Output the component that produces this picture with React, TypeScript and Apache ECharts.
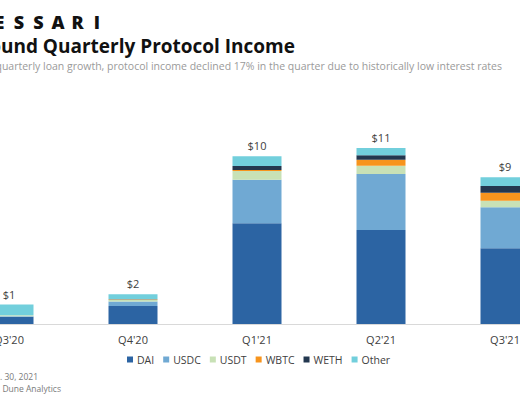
import React, { useEffect, useRef } from "react";
import * as echarts from "echarts";

const categories = ["Q3'20", "Q4'20", "Q1'21", "Q2'21", "Q3'21"];
const dai = [0.44, 1.09, 6.11, 5.7, 4.59];
const usdc = [0.03, 0.28, 2.63, 3.39, 2.48];
const usdt = [0.06, 0.12, 0.54, 0.5, 0.4];
const wbtc = [0, 0.01, 0.05, 0.36, 0.48];
const weth = [0, 0.01, 0.24, 0.28, 0.41];
const other = [0.65, 0.3, 0.59, 0.44, 0.53];

const seriesNames = ["DAI", "USDC", "USDT", "WBTC", "WETH", "Other"];
const seriesData = [dai, usdc, usdt, wbtc, weth, other];
const colors = ["#2c64a3", "#70a9d3", "#c8e1b6", "#f7941d", "#23374f", "#72cfdc"];

const logoLetters = ["M", "E", "S", "S", "A", "R", "I"];
const titleText = "Compound Quarterly Protocol Income";
const subtitleText =
  "quarterly loan growth, protocol income declined 17% in the quarter due to historically low interest rates";
const noteLines = ["As of Sep. 30, 2021", "Source: Messari, Dune Analytics"];

const FONT = "'Open Sans', 'Noto Sans', sans-serif";
const OFFSET = 60;

export default function App() {
  const ref = useRef<HTMLDivElement>(null);

  useEffect(() => {
    if (!ref.current) return;
    const chart = echarts.init(ref.current, undefined, { renderer: "svg" });
    const totals = categories.map((_, i) =>
      seriesData.reduce((s, arr) => s + arr[i], 0)
    );

    const graphics: any[] = [];
    logoLetters.forEach((ch, i) => {
      graphics.push({
        type: "text",
        x: OFFSET - 20 + i * 19.5,
        y: 22,
        style: {
          text: ch,
          fontFamily: FONT,
          fontSize: 18,
          fontWeight: 800,
          fill: "#111111",
          textAlign: "center",
          textVerticalAlign: "middle",
        },
      });
    });
    graphics.push({
      type: "text",
      x: OFFSET + 295,
      y: 46,
      style: {
        text: titleText,
        fontFamily: FONT,
        fontSize: 19,
        fontWeight: "bold",
        fill: "#111111",
        textAlign: "right",
        textVerticalAlign: "middle",
      },
    });
    graphics.push({
      type: "text",
      x: OFFSET + 502,
      y: 66,
      style: {
        text: subtitleText,
        fontFamily: FONT,
        fontSize: 10.5,
        fill: "#9a9a9a",
        textAlign: "right",
        textVerticalAlign: "middle",
      },
    });
    const noteRight = [38, 61];
    const noteY = [376, 388.5];
    noteLines.forEach((t, i) => {
      graphics.push({
        type: "text",
        x: OFFSET + noteRight[i],
        y: noteY[i],
        style: {
          text: t,
          fontFamily: FONT,
          fontSize: 8.5,
          fill: "#7a7a7a",
          textAlign: "right",
          textVerticalAlign: "middle",
        },
      });
    });

    chart.setOption({
      animation: false,
      color: colors,
      textStyle: { fontFamily: FONT },
      grid: { left: 7, right: 13, top: 126, bottom: 76, containLabel: false },
      legend: {
        data: seriesNames,
        left: 187,
        top: 354,
        padding: 0,
        icon: "rect",
        itemWidth: 6,
        itemHeight: 6,
        itemGap: 9,
        textStyle: { fontFamily: FONT, fontSize: 10.5, color: "#404040", padding: [0, 0, 0, -1] },
      },
      xAxis: {
        type: "category",
        data: categories,
        axisLine: { lineStyle: { color: "#d9d9d9", width: 1 } },
        axisTick: { show: false },
        axisLabel: { fontFamily: FONT, fontSize: 11, color: "#404040", margin: 10 },
      },
      yAxis: {
        type: "value",
        min: 0,
        max: 12,
        show: false,
        splitLine: { show: false },
      },
      series: seriesNames.map((name, si) => ({
        name,
        type: "bar",
        stack: "total",
        barWidth: 49,
        data: seriesData[si],
        itemStyle: { color: colors[si] },
        label:
          si === seriesNames.length - 1
            ? {
                show: true,
                position: "top",
                distance: 5,
                fontFamily: FONT,
                fontSize: 11,
                color: "#404040",
                formatter: (p: any) => "$" + Math.round(totals[p.dataIndex]),
              }
            : { show: false },
      })),
      graphic: graphics,
    });

    return () => chart.dispose();
  }, []);

  return (
    <div
      style={{
        position: "fixed",
        left: 0,
        top: 0,
        width: 520,
        height: 400,
        overflow: "hidden",
        background: "#ffffff",
      }}
    >
      <div
        ref={ref}
        style={{ position: "absolute", left: -OFFSET, top: 0, width: 640, height: 400 }}
      />
    </div>
  );
}
